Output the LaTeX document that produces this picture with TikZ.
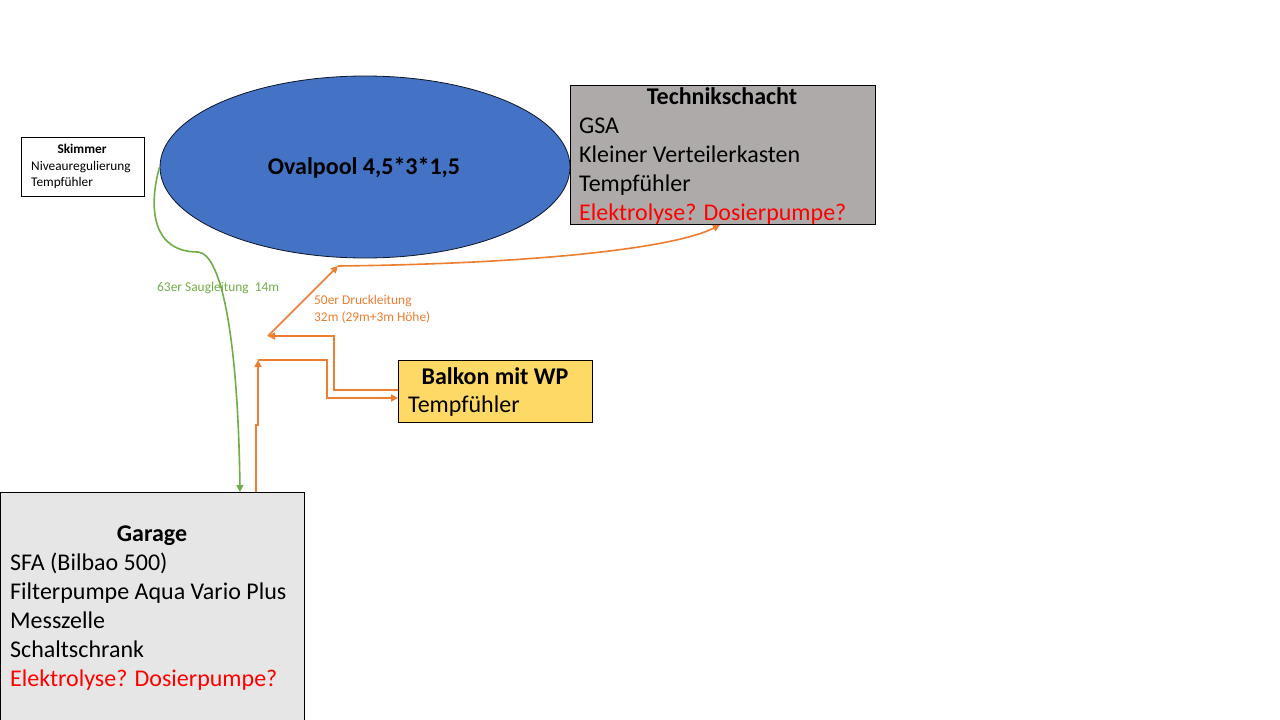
\documentclass[tikz,border=0pt]{standalone}
\usepackage{fontspec}
\setmainfont{Carlito}
\usetikzlibrary{arrows.meta,shapes.geometric}
\definecolor{poolblue}{HTML}{4472C4}
\definecolor{techgray}{HTML}{AEAAAA}
\definecolor{balkonyellow}{HTML}{FFD966}
\definecolor{garagegray}{HTML}{E7E6E6}
\definecolor{pipeorange}{HTML}{ED7D31}
\definecolor{pipegreen}{HTML}{70AD47}
\definecolor{warnred}{HTML}{FF0000}
\tikzset{
  box/.style={draw=black, line width=0.8pt, anchor=north west, inner sep=0pt},
  bigtxt/.style={font=\fontsize{24}{29}\selectfont, inner sep=0pt, anchor=west, text height=15.5pt, text depth=0pt},
  bigbold/.style={font=\fontsize{24}{29}\selectfont\bfseries, inner sep=0pt, anchor=center, text height=15.5pt, text depth=0pt},
  smalltxt/.style={font=\fontsize{13.3}{16}\selectfont, inner sep=0pt, anchor=west, text height=8.6pt, text depth=0pt},
  smallbold/.style={font=\fontsize{13.3}{16}\selectfont\bfseries, inner sep=0pt, anchor=center, text height=8.6pt, text depth=0pt},
  lbltxt/.style={font=\fontsize{13.4}{17}\selectfont, inner sep=0pt, anchor=west, text height=8.6pt, text depth=0pt},
  orangepipe/.style={draw=pipeorange, line width=1.6pt},
  greenpipe/.style={draw=pipegreen, line width=1.6pt},
  tip/.style={-{Triangle[length=7pt,width=7pt]}}
}
\begin{document}
\begin{tikzpicture}[x=1pt,y=-1pt]
\useasboundingbox (0,0) rectangle (1280,720);
\fill[white] (0,0) rectangle (1280,720);

% Skimmer
\node[box, fill=white, minimum width=123, minimum height=59] (skim) at (21,137) {};
\node[smallbold] (skimt) at (82,149) {Skimmer};
\node[smalltxt] (skim1) at (31,166) {Niveauregulierung};
\node[smalltxt] (skim2) at (31,182) {Tempfühler};

% Pool
\node[ellipse, draw=black!80!poolblue, line width=0.8pt, fill=poolblue, minimum width=410, minimum height=182, inner sep=0pt] (pool) at (365,167) {};
\node[bigbold] (poolt) at (364,167) {Ovalpool 4,5*3*1,5};

% Technikschacht
\node[box, fill=techgray, minimum width=305, minimum height=139] (tech) at (570,85) {};
\node[bigbold] (techt) at (722,97) {Technikschacht};
\node[bigtxt] (tech1) at (579,126) {GSA};
\node[bigtxt] (tech2) at (579,155) {Kleiner Verteilerkasten};
\node[bigtxt] (tech3) at (579,184) {Tempfühler};
\node[bigtxt, text=warnred] (tech4) at (579,213) {Elektrolyse? Dosierpumpe?};

% Balkon
\node[box, fill=balkonyellow, minimum width=194, minimum height=62] (balk) at (398,360) {};
\node[bigbold] (balkt) at (495,377) {Balkon mit WP};
\node[bigtxt] (balk1) at (408,405) {Tempfühler};

% Garage
\node[box, fill=garagegray, minimum width=304, minimum height=240] (gar) at (0,492) {};
\node[bigbold] (gart) at (152,534) {Garage};
\node[bigtxt] (gar1) at (10,563) {SFA (Bilbao 500)};
\node[bigtxt] (gar2) at (10,592) {Filterpumpe Aqua Vario Plus};
\node[bigtxt] (gar3) at (10,621) {Messzelle};
\node[bigtxt] (gar4) at (10,650) {Schaltschrank};
\node[bigtxt, text=warnred] (gar5) at (10,679) {Elektrolyse? Dosierpumpe?};

% connector points
\coordinate (gin) at (240,492);
\coordinate (gout) at (256,492);
\coordinate (j1) at (258,360);
\coordinate (bin) at (398,398);
\coordinate (bout) at (398,390);
\coordinate (j2) at (268,336);
\coordinate (j3) at (338,266);
\coordinate (tin) at (720,225);

% green suction line
\draw[greenpipe, tip] (pool.west) .. controls (150,200) and (148,252) .. (198,252)
  .. controls (222,254) and (238,340) .. (gin);
\node[lbltxt, text=pipegreen] (glbl) at (157,287) {63er Saugleitung\ \ 14m};

% orange pressure lines
\draw[orangepipe, tip] (gout) -- (256,425) -- (258,425) -- (j1);
\draw[orangepipe, tip] (j1) -- (327,360) -- (327,398) -- (bin);
\draw[orangepipe, tip] (bout) -- (334,390) -- (334,336) -- (j2);
\draw[orangepipe, tip] (j2) -- (j3);
\draw[orangepipe, tip] (j3) .. controls (520,264) and (670,250) .. (tin);
\node[lbltxt, text=pipeorange] (olbl1) at (314,300) {50er Druckleitung};
\node[lbltxt, text=pipeorange] (olbl2) at (314,317) {32m (29m+3m Höhe)};
\end{tikzpicture}
\end{document}
